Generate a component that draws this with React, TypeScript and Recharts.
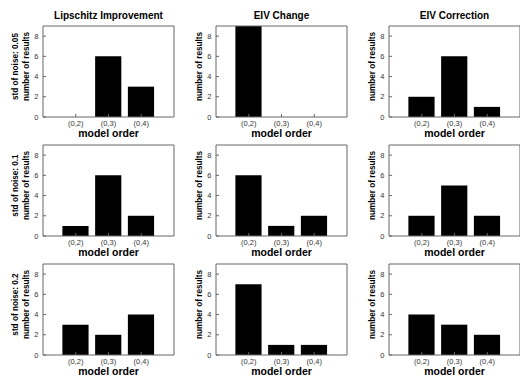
import { Bar, BarChart, XAxis, YAxis } from "recharts";

const methods = ["Lipschitz Improvement", "EIV Change", "EIV Correction"];
const noiseLevels = ["0.05", "0.1", "0.2"];
const modelOrders = ["(0,2)", "(0,3)", "(0,4)"];
const yTicks = [0, 2, 4, 6, 8];

// rows = noise level, columns = model order
const lipschitzImprovement = [
  [0, 6, 3],
  [1, 6, 2],
  [3, 2, 4],
];
const eivChange = [
  [9, 0, 0],
  [6, 1, 2],
  [7, 1, 1],
];
const eivCorrection = [
  [2, 6, 1],
  [2, 5, 2],
  [4, 3, 2],
];

const results = [lipschitzImprovement, eivChange, eivCorrection];

const FONT = '"Liberation Sans", Arial, Helvetica, sans-serif';
const COL_X = [0, 173, 346];
const ROW_Y = [0, 119, 238];
const PLOT_LEFT = 43;
const PLOT_TOP = 26;
const PLOT_W = 131;
const PLOT_H = 91;
const XAXIS_H = 22;
const AXIS_COLOR = "#666";

function YLabel({ viewBox, lines }: any) {
  const { x, y, width, height } = viewBox;
  const cy = y + height / 2 - 5;
  return (
    <g>
      {lines.map((line: string, i: number) => {
        const cx = x + width - 16.5 - (lines.length - 1 - i) * 11;
        return (
          <text
            key={line}
            x={cx}
            y={cy}
            transform={`rotate(-90 ${cx} ${cy})`}
            textAnchor="middle"
            dominantBaseline="central"
            fontFamily={FONT}
            fontWeight="bold"
            fontSize={8.2}
            fill="#000"
          >
            {line}
          </text>
        );
      })}
    </g>
  );
}

function XLabel({ viewBox }: any) {
  const { x, y, width } = viewBox;
  return (
    <text
      x={x + width / 2}
      y={y + 16}
      textAnchor="middle"
      dominantBaseline="central"
      fontFamily={FONT}
      fontWeight="bold"
      fontSize={10.5}
      fill="#000"
    >
      model order
    </text>
  );
}

function Title({ viewBox, text }: any) {
  const { x, y, width } = viewBox;
  return (
    <text
      x={x + width / 2}
      y={y + 1 - 11}
      textAnchor="middle"
      dominantBaseline="central"
      fontFamily={FONT}
      fontWeight="bold"
      fontSize={10}
      fill="#000"
    >
      {text}
    </text>
  );
}

function Panel({ row, col }: { row: number; col: number }) {
  const data = modelOrders.map((label, i) => ({
    pos: i + 1,
    label,
    value: results[col][row][i],
  }));
  const lines =
    col === 0
      ? [`std of noise: ${noiseLevels[row]}`, "number of results"]
      : ["number of results"];
  const tickStyle = { fontSize: 7.5, fontFamily: FONT, fill: "#333" };
  const axisLine = { stroke: AXIS_COLOR };

  return (
    <div style={{ position: "absolute", left: COL_X[col], top: ROW_Y[row] }}>
      <BarChart
        width={PLOT_LEFT + PLOT_W + 1}
        height={PLOT_TOP + PLOT_H + XAXIS_H}
        data={data}
        margin={{ top: PLOT_TOP - 1, right: 0, bottom: 0, left: 0 }}
        style={{ overflow: "visible" }}
      >
        <XAxis
          dataKey="pos"
          type="number"
          domain={[0, 4]}
          ticks={[1, 2, 3]}
          interval={0}
          tickFormatter={(v: number) => modelOrders[v - 1]}
          height={XAXIS_H}
          tickSize={-3}
          tickMargin={6.5}
          tick={tickStyle}
          axisLine={axisLine}
          tickLine={axisLine}
          label={<XLabel />}
        />
        <XAxis
          xAxisId="top"
          orientation="top"
          dataKey="pos"
          type="number"
          domain={[0, 4]}
          ticks={[1, 2, 3]}
          height={1}
          tickSize={-3}
          tick={false}
          axisLine={axisLine}
          tickLine={axisLine}
          label={row === 0 ? <Title text={methods[col]} /> : undefined}
        />
        <YAxis
          domain={[0, 9]}
          ticks={yTicks}
          interval={0}
          width={PLOT_LEFT}
          tickSize={-3}
          tickMargin={7.5}
          tick={tickStyle}
          axisLine={axisLine}
          tickLine={axisLine}
          label={<YLabel lines={lines} />}
        />
        <YAxis
          yAxisId="right"
          orientation="right"
          domain={[0, 9]}
          ticks={yTicks}
          width={1}
          tickSize={-3}
          tick={false}
          axisLine={axisLine}
          tickLine={axisLine}
        />
        <Bar dataKey="value" fill="#000" barSize={(PLOT_W * 0.8) / 4} isAnimationActive={false} />
      </BarChart>
    </div>
  );
}

export default function App() {
  return (
    <div
      style={{
        position: "absolute",
        left: 0,
        top: 0,
        width: 520,
        height: 376,
        background: "#fff",
        overflow: "hidden",
      }}
    >
      {[0, 1, 2].map((row) =>
        [0, 1, 2].map((col) => <Panel key={`${row}-${col}`} row={row} col={col} />)
      )}
    </div>
  );
}
